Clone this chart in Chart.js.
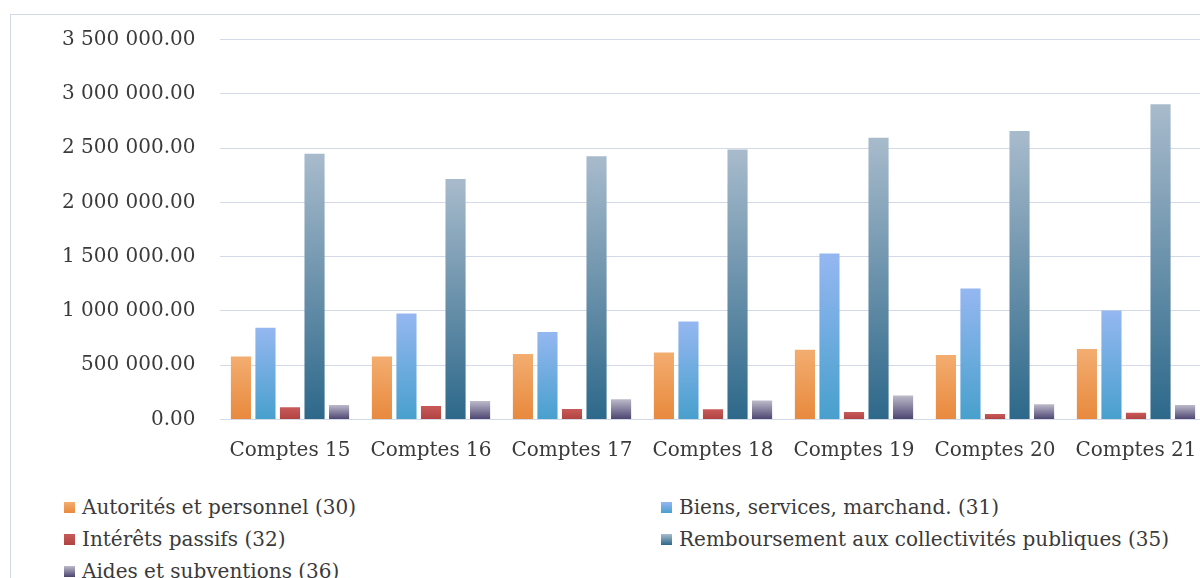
<!DOCTYPE html>
<html>
<head>
<meta charset="utf-8">
<script src="https://cdn.jsdelivr.net/npm/chart.js@4"></script>
<style>
  html, body { margin: 0; padding: 0; background: #fff; overflow: hidden; width: 1200px; height: 578px; }
  #frame { position: absolute; left: 10px; top: 14px; width: 1300px; height: 700px; border: 1px solid #d3d9e3; }
  #chart { position: absolute; left: 0; top: 0; }
  .legend { position: absolute; font-family: "DejaVu Serif", serif; font-size: 20px; color: #3a3a3a; line-height: 32px; }
  .legend div { display: flex; align-items: center; white-space: nowrap; }
  .legend span.box { width: 11px; height: 11px; margin-right: 7px; display: inline-block; }
</style>
</head>
<body>
<div id="frame"></div>
<canvas id="chart" width="1240" height="470"></canvas>
<div class="legend" id="legendLeft" style="left:64px; top:491px;"></div>
<div class="legend" id="legendRight" style="left:661px; top:491px;"></div>
<script>
const categories = ['Comptes 15', 'Comptes 16', 'Comptes 17', 'Comptes 18', 'Comptes 19', 'Comptes 20', 'Comptes 21'];
const autorites = [580000, 580000, 603000, 618000, 643000, 594000, 650000];
const biens = [844000, 976000, 807000, 902000, 1528000, 1207000, 1003000];
const interets = [113000, 125000, 97000, 94000, 69000, 50000, 63000];
const remboursement = [2447000, 2215000, 2425000, 2487000, 2595000, 2657000, 2903000];
const aides = [134000, 171000, 187000, 174000, 220000, 140000, 134000];
const yTicks = [0, 500000, 1000000, 1500000, 2000000, 2500000, 3000000, 3500000];

const seriesNames = [
    'Autorités et personnel (30)',
    'Biens, services, marchand. (31)',
    'Intérêts passifs (32)',
    'Remboursement aux collectivités publiques (35)',
    'Aides et subventions (36)'
];
const seriesData = [autorites, biens, interets, remboursement, aides];
const seriesColors = [
    ['#f3ad70', '#e8893d'],
    ['#95b7f1', '#48a0cd'],
    ['#c85a5a', '#b04340'],
    ['#a8bbcc', '#2d688a'],
    ['#bdbaca', '#4a4470']
];

function formatNumber(v) {
    const parts = v.toFixed(2).split('.');
    return parts[0].replace(/\B(?=(\d{3})+(?!\d))/g, ' ') + '.' + parts[1];
}

function barGradient(colors) {
    return function(context) {
        const chart = context.chart;
        const yScale = chart.scales.y;
        if (!yScale || context.parsed === undefined) return colors[1];
        const top = yScale.getPixelForValue(context.parsed.y);
        const base = yScale.getPixelForValue(0);
        if (!isFinite(top) || !isFinite(base) || top === base) return colors[1];
        const g = chart.ctx.createLinearGradient(0, top, 0, base);
        g.addColorStop(0, colors[0]);
        g.addColorStop(1, colors[1]);
        return g;
    };
}

const datasets = seriesNames.map(function(name, i) {
    return {
        label: name,
        data: seriesData[i],
        backgroundColor: barGradient(seriesColors[i]),
        borderWidth: 0,
        categoryPercentage: 0.87,
        barPercentage: 0.82
    };
});

const ctx = document.getElementById('chart').getContext('2d');
new Chart(ctx, {
    type: 'bar',
    data: {
        labels: categories,
        datasets: datasets
    },
    options: {
        responsive: false,
        animation: false,
        layout: { padding: { left: 0, right: 33.5, top: 39.5, bottom: 5.5 } },
        plugins: {
            legend: { display: false },
            tooltip: { enabled: false }
        },
        scales: {
            x: {
                grid: { display: false, drawTicks: false },
                border: { display: false },
                ticks: {
                    padding: 19,
                    color: '#3a3a3a',
                    font: { family: 'DejaVu Serif', size: 20 }
                },
                afterFit: function(scale) { scale.height = 45; }
            },
            y: {
                min: 0,
                max: 3500000,
                afterBuildTicks: function(scale) {
                    scale.ticks = yTicks.map(function(v) { return { value: v }; });
                },
                grid: { color: '#d3d9e6', lineWidth: 1, drawTicks: false },
                border: { display: false },
                ticks: {
                    padding: 24,
                    color: '#3a3a3a',
                    font: { family: 'DejaVu Serif', size: 20 },
                    callback: function(v) { return formatNumber(v); }
                },
                afterFit: function(scale) { scale.width = 219.5; }
            }
        }
    }
});

// legend in two columns like the original
function legendItem(i) {
    const row = document.createElement('div');
    const box = document.createElement('span');
    box.className = 'box';
    box.style.background = 'linear-gradient(' + seriesColors[i][0] + ', ' + seriesColors[i][1] + ')';
    row.appendChild(box);
    row.appendChild(document.createTextNode(seriesNames[i]));
    return row;
}
const left = document.getElementById('legendLeft');
const right = document.getElementById('legendRight');
[0, 2, 4].forEach(function(i) { left.appendChild(legendItem(i)); });
[1, 3].forEach(function(i) { right.appendChild(legendItem(i)); });
</script>
</body>
</html>
